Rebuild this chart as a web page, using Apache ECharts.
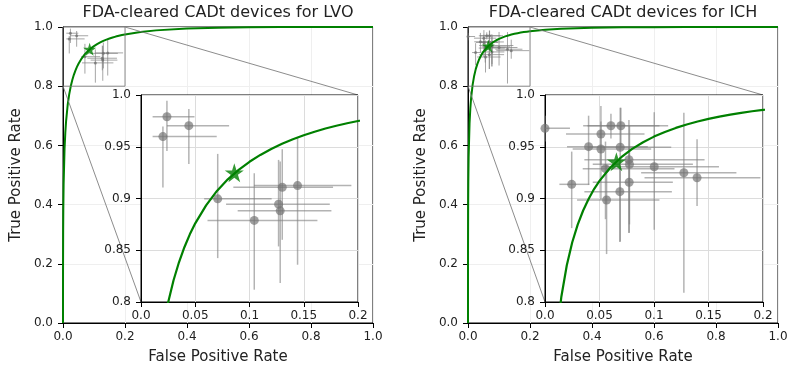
<!DOCTYPE html>
<html><head><meta charset="utf-8">
<script src="https://cdn.jsdelivr.net/npm/echarts@6/dist/echarts.min.js"></script>
<style>html,body{margin:0;padding:0;background:#fff}#c{width:793px;height:377px}</style>
</head><body><div id="c"></div>
<script>
// ---------- data ----------
const panelTitles = ['FDA-cleared CADt devices for LVO', 'FDA-cleared CADt devices for ICH'];
const xAxisName = 'False Positive Rate';
const yAxisName = 'True Positive Rate';
const mainRange = [0, 1];
const mainInterval = 0.2;
const zoomX = [0, 0.2];
const zoomY = [0.8, 1.0];
const insetInterval = 0.05;

const curveFpr = [0, 0.00001, 0.0001, 0.0005, 0.001, 0.002, 0.005, 0.0075, 0.01, 0.015,
  0.02, 0.025, 0.03, 0.035, 0.04, 0.045, 0.05, 0.06, 0.07, 0.08,
  0.09, 0.1, 0.11, 0.12, 0.13, 0.14, 0.15, 0.16, 0.17, 0.18,
  0.19, 0.2, 0.25, 0.3, 0.4, 0.5, 0.6, 0.7, 0.8, 0.9, 1.0];
const lvoCurveTpr = [0, 0.0715, 0.179, 0.312, 0.386, 0.469, 0.589, 0.6436, 0.6823, 0.7357,
  0.7722, 0.7995, 0.8210, 0.8384, 0.8529, 0.8654, 0.8760, 0.8934, 0.9073, 0.9185,
  0.9277, 0.9355, 0.9421, 0.9479, 0.9529, 0.9573, 0.9611, 0.9645, 0.9676, 0.9703,
  0.9727, 0.9749, 0.9832, 0.9886, 0.9946, 0.9974, 0.9989, 0.9996, 0.9999, 1.0, 1.0];
const ichCurveTpr = [0, 0.108, 0.2454, 0.397, 0.476, 0.560, 0.675, 0.7251, 0.7593, 0.8051,
  0.8355, 0.8577, 0.8747, 0.8884, 0.8996, 0.9091, 0.9170, 0.9299, 0.9399, 0.9479,
  0.9544, 0.9598, 0.9643, 0.9682, 0.9715, 0.9744, 0.9769, 0.9791, 0.9811, 0.9828,
  0.9843, 0.9857, 0.9908, 0.9939, 0.9973, 0.9988, 0.9995, 0.9998, 0.99995, 1.0, 1.0];

const lvoStar = [0.086, 0.925];
const ichStar = [0.0655, 0.9356];

const lvoFpr   = [0.0239, 0.0441, 0.0202, 0.0707, 0.1302, 0.1443, 0.1268, 0.1283, 0.1044];
const lvoTpr   = [0.979, 0.9704, 0.9598, 0.8997, 0.9109, 0.9125, 0.8945, 0.8881, 0.8788];
const lvoFprLo = [0.0107, 0.0239, 0.0107, 0.0582, 0.0851, 0.1041, 0.0784, 0.0891, 0.0613];
const lvoFprHi = [0.0493, 0.0812, 0.0698, 0.1204, 0.177, 0.1939, 0.174, 0.1755, 0.1626];
const lvoTprLo = [0.946, 0.9334, 0.9106, 0.8424, 0.8601, 0.836, 0.8537, 0.8183, 0.8119];
const lvoTprHi = [0.9945, 0.9865, 0.9695, 0.9431, 0.9476, 0.9582, 0.9373, 0.9357, 0.9244];

const ichFpr   = [0.0, 0.0605, 0.0696, 0.0513, 0.040, 0.0513, 0.069, 0.077, 0.0775, 0.1002, 0.1274, 0.1395, 0.0245, 0.0772, 0.0687, 0.0565, 0.0555];
const ichTpr   = [0.9678, 0.9703, 0.9703, 0.9623, 0.9501, 0.9478, 0.9495, 0.9375, 0.933, 0.9307, 0.9249, 0.9201, 0.9137, 0.9157, 0.9066, 0.8986, 0.9288];
const ichFprLo = [-0.02, 0.035, 0.039, 0.0193, 0.0202, 0.0254, 0.0392, 0.0361, 0.0438, 0.0515, 0.0882, 0.0913, 0.0132, 0.0438, 0.0361, 0.0294, 0.0346];
const ichFprHi = [0.0229, 0.105, 0.113, 0.0913, 0.0943, 0.0974, 0.1158, 0.1464, 0.1357, 0.1596, 0.1756, 0.1976, 0.0407, 0.1173, 0.1164, 0.105, 0.1188];
const ichTprLo = [0.955, 0.958, 0.9486, 0.9325, 0.9132, 0.8987, 0.8585, 0.8666, 0.875, 0.8698, 0.809, 0.8928, 0.8714, 0.867, 0.858, 0.8463, 0.88];
const ichTprHi = [0.98, 0.982, 0.9878, 0.9894, 0.980, 0.9743, 0.9878, 0.9759, 0.97, 0.9833, 0.9829, 0.9572, 0.9453, 0.95, 0.94, 0.9325, 0.955];

// ---------- build ----------
const FONT = '"DejaVu Sans", sans-serif';
const TXT = '#222';
const GREEN = '#008000';
const STAR = 'path://M100 0 L122.45 69.1 L195.1 69.1 L136.3 111.8 L158.8 180.9 L100 138.2 L41.2 180.9 L63.7 111.8 L4.9 69.1 L77.55 69.1 Z';

const panels = [
  {title: panelTitles[0], curve: lvoCurveTpr, star: lvoStar, fpr: lvoFpr, tpr: lvoTpr, xl: lvoFprLo, xh: lvoFprHi, yl: lvoTprLo, yh: lvoTprHi,
   main: {left: 63, top: 27, width: 310, height: 296}, inset: {left: 141, top: 95, width: 217, height: 207}},
  {title: panelTitles[1], curve: ichCurveTpr, star: ichStar, fpr: ichFpr, tpr: ichTpr, xl: ichFprLo, xh: ichFprHi, yl: ichTprLo, yh: ichTprHi,
   main: {left: 468, top: 27, width: 310, height: 296}, inset: {left: 545, top: 95, width: 218, height: 207}}
];

function fmtMain(v) { return v.toFixed(1); }
function fmtInset(v) { return Number.isInteger(Math.round(v * 1e6) / 1e6) ? Math.round(v).toFixed(1) : String(+v.toFixed(2)); }

function errRender(lw, color) {
  return function (params, api) {
    const x = api.value(0), y = api.value(1);
    const xl = api.coord([api.value(2), y]), xh = api.coord([api.value(3), y]);
    const yl = api.coord([x, api.value(4)]), yh = api.coord([x, api.value(5)]);
    return {type: 'group', children: [
      {type: 'line', shape: {x1: xl[0], y1: xl[1], x2: xh[0], y2: xh[1]}, style: {stroke: color, lineWidth: lw}},
      {type: 'line', shape: {x1: yl[0], y1: yl[1], x2: yh[0], y2: yh[1]}, style: {stroke: color, lineWidth: lw}}
    ]};
  };
}

const grids = [], xAxes = [], yAxes = [], series = [];
panels.forEach((p, i) => {
  const mg = i * 2, ig = i * 2 + 1;
  grids.push(Object.assign({show: true, borderColor: '#000', borderWidth: 1, backgroundColor: '#fff', z: 0}, p.main));
  grids.push(Object.assign({show: true, borderColor: '#000', borderWidth: 1, backgroundColor: '#fff', z: 8}, p.inset));
  const axCommon = {type: 'value', axisLine: {show: true, lineStyle: {color: '#000', width: 1}},
    axisTick: {show: true, inside: false, length: 5, lineStyle: {color: '#000', width: 1}}};
  xAxes.push(Object.assign({}, axCommon, {gridIndex: mg, min: mainRange[0], max: mainRange[1], interval: mainInterval,
    name: xAxisName, nameLocation: 'middle', nameGap: 27, nameTextStyle: {fontFamily: FONT, fontSize: 15, color: TXT},
    axisLabel: {formatter: fmtMain, fontFamily: FONT, fontSize: 12, color: TXT, margin: 8},
    splitLine: {show: true, lineStyle: {color: '#efefef', width: 1}}}));
  yAxes.push(Object.assign({}, axCommon, {gridIndex: mg, min: mainRange[0], max: mainRange[1], interval: mainInterval,
    name: yAxisName, nameLocation: 'middle', nameGap: 39, nameRotate: 90, nameTextStyle: {fontFamily: FONT, fontSize: 15, color: TXT},
    axisLabel: {formatter: fmtMain, fontFamily: FONT, fontSize: 12, color: TXT, margin: 10},
    splitLine: {show: true, lineStyle: {color: '#efefef', width: 1}}}));
  xAxes.push(Object.assign({}, axCommon, {gridIndex: ig, min: zoomX[0], max: zoomX[1], interval: insetInterval, z: 9,
    axisLabel: {formatter: fmtInset, fontFamily: FONT, fontSize: 12, color: TXT, margin: 8},
    splitLine: {show: true, lineStyle: {color: '#dcdcdc', width: 1}}}));
  yAxes.push(Object.assign({}, axCommon, {gridIndex: ig, min: zoomY[0], max: zoomY[1], interval: insetInterval, z: 9,
    axisLabel: {formatter: fmtInset, fontFamily: FONT, fontSize: 12, color: TXT, margin: 10},
    splitLine: {show: true, lineStyle: {color: '#dcdcdc', width: 1}}}));

  const curveData = curveFpr.map((f, k) => [f, p.curve[k]]);
  const errData = p.fpr.map((f, k) => [f, p.tpr[k], p.xl[k], p.xh[k], p.yl[k], p.yh[k]]);
  const ptData = p.fpr.map((f, k) => [f, p.tpr[k]]);

  // main (thumbnail) layers
  series.push({type: 'custom', xAxisIndex: mg, yAxisIndex: mg, z: 2, clip: true, silent: true,
    renderItem: errRender(1, 'rgba(128,128,128,0.7)'), encode: {x: [0, 2, 3], y: [1, 4, 5]}, data: errData});
  series.push({type: 'scatter', xAxisIndex: mg, yAxisIndex: mg, z: 2, symbolSize: 3, silent: true,
    itemStyle: {color: 'rgba(110,110,110,0.9)'}, data: ptData});
  series.push({type: 'line', xAxisIndex: mg, yAxisIndex: mg, z: 3, showSymbol: false, silent: true, clip: true,
    lineStyle: {color: GREEN, width: 2}, data: curveData});
  series.push({type: 'scatter', xAxisIndex: mg, yAxisIndex: mg, z: 3, symbol: STAR, symbolSize: 13, silent: true,
    itemStyle: {color: GREEN}, data: [p.star]});

  // inset layers
  series.push({type: 'custom', xAxisIndex: ig, yAxisIndex: ig, z: 10, clip: true, silent: true,
    renderItem: errRender(1.5, 'rgba(128,128,128,0.6)'), encode: {x: [0, 2, 3], y: [1, 4, 5]}, data: errData});
  series.push({type: 'scatter', xAxisIndex: ig, yAxisIndex: ig, z: 11, symbolSize: 9, silent: true,
    itemStyle: {color: 'rgba(115,115,115,0.85)'}, data: ptData});
  series.push({type: 'line', xAxisIndex: ig, yAxisIndex: ig, z: 12, showSymbol: false, silent: true, clip: true,
    lineStyle: {color: GREEN, width: 2.2}, data: curveData});
  series.push({type: 'scatter', xAxisIndex: ig, yAxisIndex: ig, z: 13, symbol: STAR, symbolSize: 19, silent: true,
    itemStyle: {color: GREEN}, data: [p.star]});
});

const chart = echarts.init(document.getElementById('c'), null, {renderer: 'canvas'});
chart.setOption({animation: false, backgroundColor: '#fff', grid: grids, xAxis: xAxes, yAxis: yAxes, series: series});

// decorations: titles, zoom indicator box and connector lines
const graphics = [];
panels.forEach((p, i) => {
  const mg = i * 2, ig = i * 2 + 1;
  const a = chart.convertToPixel({gridIndex: mg}, [zoomX[0], zoomY[0]]);
  const b = chart.convertToPixel({gridIndex: mg}, [zoomX[1], zoomY[1]]);
  const ia = chart.convertToPixel({gridIndex: ig}, [zoomX[0], zoomY[0]]);
  const ib = chart.convertToPixel({gridIndex: ig}, [zoomX[1], zoomY[1]]);
  const mid = chart.convertToPixel({gridIndex: mg}, [0.5, 1]);
  graphics.push({type: 'rect', z: 5, silent: true, shape: {x: a[0], y: b[1], width: b[0] - a[0], height: a[1] - b[1]},
    style: {fill: 'none', stroke: 'rgba(120,120,120,0.85)', lineWidth: 1}});
  graphics.push({type: 'line', z: 5, silent: true, shape: {x1: a[0], y1: a[1], x2: ia[0], y2: ia[1]},
    style: {stroke: 'rgba(120,120,120,0.85)', lineWidth: 1}});
  graphics.push({type: 'line', z: 5, silent: true, shape: {x1: b[0], y1: b[1], x2: ib[0], y2: ib[1]},
    style: {stroke: 'rgba(120,120,120,0.85)', lineWidth: 1}});
  graphics.push({type: 'text', z: 20, silent: true, x: mid[0], y: 13,
    style: {text: p.title, font: '16px ' + FONT, fill: TXT, align: 'center', verticalAlign: 'middle', textAlign: 'center', textVerticalAlign: 'middle'}});
});
chart.setOption({graphic: graphics});
</script>
</body></html>
